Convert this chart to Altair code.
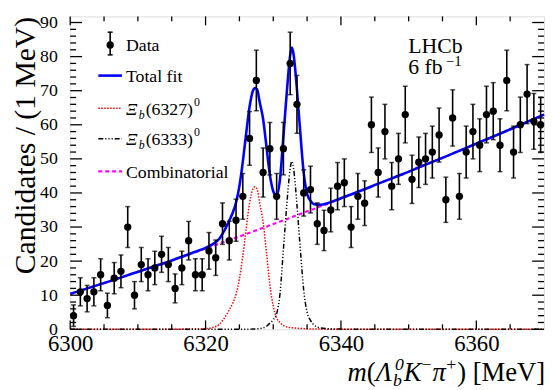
import altair as alt
import pandas as pd
import numpy as np

# ---------------- data ----------------
counts = [4, 11, 9, 11, 16, 7, 15, 17, 30, 10,
          19, 16, 18, 22, 19, 12, 18, 26, 16, 16,
          23, 21, 31, 26, 32, 39, 56, 73, 46, 53,
          39, 53, 78, 66, 40, 41, 31, 29, 35, 42,
          43, 30, 39, 37, 60, 46, 58, 42, 50, 63,
          44, 49, 50, 52, 57, 38, 62, 39, 52, 58,
          54, 63, 64, 54, 73, 52, 60, 69, 61, 60]
bin_centers = [6300.5 + i for i in range(len(counts))]

fit_x = [6300, 6303, 6306, 6309, 6312, 6315, 6318, 6319, 6320, 6321, 6322,
         6322.5, 6323, 6323.5, 6324, 6324.5, 6325, 6325.5, 6326, 6326.5, 6327,
         6327.3, 6327.6, 6328, 6328.5, 6329, 6329.5, 6330, 6330.5, 6331, 6331.5,
         6331.75, 6332, 6332.25, 6332.5, 6332.75, 6333, 6333.25, 6333.5, 6334,
         6334.5, 6335, 6335.5, 6336, 6337, 6338, 6340, 6343, 6346, 6349, 6352,
         6355, 6358, 6361, 6364, 6367, 6370]
comb_y = [10.4, 12.3, 14.2, 16.2, 18.2, 20.2, 22.3, 23.0, 23.7, 24.4, 25.1,
          25.5, 25.8, 26.2, 26.5, 26.9, 27.2, 27.6, 28.0, 28.3, 28.7,
          28.9, 29.1, 29.4, 29.8, 30.1, 30.5, 30.9, 31.2, 31.6, 32.0,
          32.2, 32.3, 32.5, 32.7, 32.9, 33.1, 33.3, 33.5, 33.8,
          34.2, 34.6, 35.0, 35.3, 36.1, 36.8, 38.4, 40.7, 43.1, 45.4, 47.9,
          50.3, 52.8, 55.3, 57.8, 60.4, 63.0]
xib1_y = [0, 0, 0, 0, 0, 0, 0.1, 0.1, 0.2, 0.5, 1.4,
          2.5, 4.0, 5.7, 7.6, 10.3, 14.8, 21.5, 29.5, 37.0, 41.2,
          41.8, 41.2, 37.0, 31.5, 22.5, 13.0, 6.8, 3.3, 2.0, 1.1,
          0.9, 0.7, 0.6, 0.5, 0.45, 0.4, 0.35, 0.3, 0.25,
          0.2, 0.15, 0.1, 0.1, 0.05, 0, 0, 0, 0, 0, 0,
          0, 0, 0, 0, 0, 0]
xib2_y = [0, 0, 0, 0, 0, 0, 0, 0, 0, 0, 0,
          0, 0, 0, 0, 0, 0, 0, 0, 0, 0.1,
          0.1, 0.15, 0.2, 0.4, 0.9, 1.8, 2.8, 4.6, 10.5, 23.5,
          30.0, 36.5, 42.5, 47.2, 49.3, 47.2, 42.5, 36.5, 23.5,
          11.5, 5.0, 2.6, 1.3, 0.4, 0.2, 0.05, 0, 0, 0, 0,
          0, 0, 0, 0, 0, 0]

x_major = [6300, 6320, 6340, 6360]
x_minor = [6305, 6310, 6315, 6325, 6330, 6335, 6345, 6350, 6355, 6365]
y_major = [0, 10, 20, 30, 40, 50, 60, 70, 80, 90]
y_minor = [2, 4, 6, 8, 12, 14, 16, 18, 22, 24, 26, 28, 32, 34, 36, 38,
           42, 44, 46, 48, 52, 54, 56, 58, 62, 64, 66, 68, 72, 74, 76, 78,
           82, 84, 86, 88]

# ---------------- tables ----------------
err = np.sqrt(np.array(counts) + 6.0)
pts = pd.DataFrame({"x": bin_centers, "y": counts,
                    "lo": np.array(counts) - err, "hi": np.array(counts) + err})
fit = pd.DataFrame({"x": fit_x, "comb": comb_y, "xib1": xib1_y, "xib2": xib2_y})
fit["total"] = fit["comb"] + fit["xib1"] + fit["xib2"]

W, H = 480, 317
SERIF = "Liberation Serif, Times New Roman, Times, DejaVu Serif, serif"
xs = alt.Scale(domain=[6300, 6370], nice=False, zero=False)
ys = alt.Scale(domain=[0, 91.8], nice=False, zero=False)
xax = alt.Axis(values=x_major, title=None, format="d", labelFontSize=23,
               labelFont=SERIF, labelPadding=3, labelColor="black",
               ticks=False, domain=False, grid=False, labelFlush=False)
yax = alt.Axis(values=y_major, title="Candidates / (1 MeV)", format="d",
               labelFontSize=18, labelFont=SERIF, labelPadding=13,
               labelColor="black", ticks=False, domain=False, grid=False,
               titleFont=SERIF, titleFontSize=30, titleFontWeight="normal",
               titleColor="black", titleX=-36, titleY=0, titleAngle=270,
               titleAlign="right", titleBaseline="alphabetic")

def X(f):
    return alt.X(f, type="quantitative", scale=xs, axis=xax)

def Y(f):
    return alt.Y(f, type="quantitative", scale=ys, axis=yax)

one = pd.DataFrame({"k": [0]})

layers = []
# curves
layers.append(alt.Chart(fit).mark_line(color="#ff00ff", strokeWidth=2.2,
              strokeDash=[4, 3]).encode(x=X("x"), y=Y("comb")))
layers.append(alt.Chart(fit).mark_line(color="#ff0000", strokeWidth=1.5,
              strokeDash=[1.5, 1.5], interpolate="monotone").encode(x=X("x"), y=Y("xib1")))
layers.append(alt.Chart(fit).mark_line(color="black", strokeWidth=1.5,
              strokeDash=[5, 2, 1.2, 2, 1.2, 2, 1.2, 2], interpolate="monotone").encode(x=X("x"), y=Y("xib2")))
layers.append(alt.Chart(fit).mark_line(color="#0000ff", strokeWidth=2.6,
              interpolate="monotone").encode(x=X("x"), y=Y("total")))
# data
layers.append(alt.Chart(pts).mark_rule(color="black", strokeWidth=1.6).encode(
    x=X("x"), y=Y("lo"), y2="hi"))
layers.append(alt.Chart(pts).mark_tick(color="black", orient="horizontal", size=5,
              thickness=1.5).encode(x=X("x"), y=Y("lo")))
layers.append(alt.Chart(pts).mark_tick(color="black", orient="horizontal", size=5,
              thickness=1.5).encode(x=X("x"), y=Y("hi")))
layers.append(alt.Chart(pts).mark_circle(color="black", size=55, opacity=1).encode(
    x=X("x"), y=Y("y")))

# inward ticks on all four sides
def xticks(vals, ln):
    d = pd.DataFrame({"v": vals})
    b = alt.Chart(d).mark_rule(color="black", strokeWidth=1.3).encode(
        x=X("v"), y=alt.value(H), y2=alt.value(H - ln))
    t = alt.Chart(d).mark_rule(color="black", strokeWidth=1.3).encode(
        x=X("v"), y=alt.value(0), y2=alt.value(ln))
    return [b, t]

def yticks(vals, ln):
    d = pd.DataFrame({"v": vals})
    l = alt.Chart(d).mark_rule(color="black", strokeWidth=1.3).encode(
        y=Y("v"), x=alt.value(0), x2=alt.value(ln))
    r = alt.Chart(d).mark_rule(color="black", strokeWidth=1.3).encode(
        y=Y("v"), x=alt.value(W), x2=alt.value(W - ln))
    return [l, r]

layers += xticks(x_major, 9) + xticks(x_minor, 5)
layers += yticks(y_major, 12) + yticks(y_minor, 6)

# ---------------- legend ----------------
def txt(s, x, y, size=18, style="normal", align="left", color="black"):
    return alt.Chart(one).mark_text(text=s, align=align, baseline="alphabetic",
                                    font=SERIF, fontSize=size, fontStyle=style,
                                    color=color).encode(x=alt.value(x), y=alt.value(y))

def seg(y, color, dash=None, width=2.0):
    kw = dict(color=color, strokeWidth=width)
    if dash:
        kw["strokeDash"] = dash
    return alt.Chart(one).mark_rule(**kw).encode(
        x=alt.value(28.5), x2=alt.value(52.5), y=alt.value(y))

TX = 56.5
rows = [29, 60, 93, 124, 157]
# Data entry
layers.append(alt.Chart(one).mark_rule(color="black", strokeWidth=1.6).encode(
    x=alt.value(40.5), y=alt.value(rows[0] - 13), y2=alt.value(rows[0] + 10)))
layers.append(alt.Chart(one).mark_rule(color="black", strokeWidth=1.5).encode(
    x=alt.value(38), x2=alt.value(43), y=alt.value(rows[0] - 13)))
layers.append(alt.Chart(one).mark_rule(color="black", strokeWidth=1.5).encode(
    x=alt.value(38), x2=alt.value(43), y=alt.value(rows[0] + 10)))
layers.append(alt.Chart(one).mark_circle(color="black", size=55, opacity=1).encode(
    x=alt.value(40.5), y=alt.value(rows[0])))
layers.append(txt("Data", TX, rows[0] + 6.5))
layers.append(seg(rows[1], "#0000ff", width=2.6))
layers.append(txt("Total fit", TX, rows[1] + 6.5))
layers.append(seg(rows[2], "#ff0000", dash=[1.5, 1.5], width=1.5))
layers.append(seg(rows[3], "black", dash=[5, 2, 1.2, 2, 1.2, 2, 1.2, 2], width=1.5))
layers.append(seg(rows[4], "#ff00ff", dash=[4, 3], width=2.2))
for r, lab in [(rows[2], "(6327)"), (rows[3], "(6333)")]:
    b = r + 6.5
    layers.append(txt("Ξ", TX, b, style="italic"))
    layers.append(txt("b", TX + 13, b + 4, size=12, style="italic"))
    layers.append(txt(lab, TX + 20, b))
    layers.append(txt("0", TX + 69, b - 9, size=12))
layers.append(txt("Combinatorial", TX, rows[4] + 6.5))

# LHCb label
layers.append(txt("LHCb", 342.5, 37, size=22))
layers.append(txt("6 fb", 342.5, 58, size=22))
layers.append(txt("−1", 380.5, 50, size=15))

# x-axis title built from pieces
F, F2, BL = 27, 18, 369
x0 = 281
layers.append(txt("m", x0, BL, size=F, style="italic"))
layers.append(txt("(", x0 + 19.5, BL, size=F))
layers.append(txt("Λ", x0 + 28.5, BL, size=F, style="italic"))
layers.append(txt("b", x0 + 46, BL + 5, size=F2, style="italic"))
layers.append(txt("0", x0 + 48, BL - 11, size=F2, style="italic"))
layers.append(txt("K", x0 + 57, BL, size=F, style="italic"))
layers.append(txt("−", x0 + 75, BL - 11, size=F2))
layers.append(txt("π", x0 + 86, BL, size=F, style="italic"))
layers.append(txt("+", x0 + 100, BL - 11, size=F2))
layers.append(txt(") [MeV]", x0 + 111, BL, size=F))

chart = alt.layer(*layers).properties(
    width=W, height=H,
    autosize=alt.AutoSizeParams(type="none"),
    padding={"left": 63, "top": 6, "right": 1, "bottom": 59},
).configure_view(stroke="black", strokeWidth=2).configure(background="white")

chart.save("out.html", embed_options={"renderer": "svg", "actions": False})
